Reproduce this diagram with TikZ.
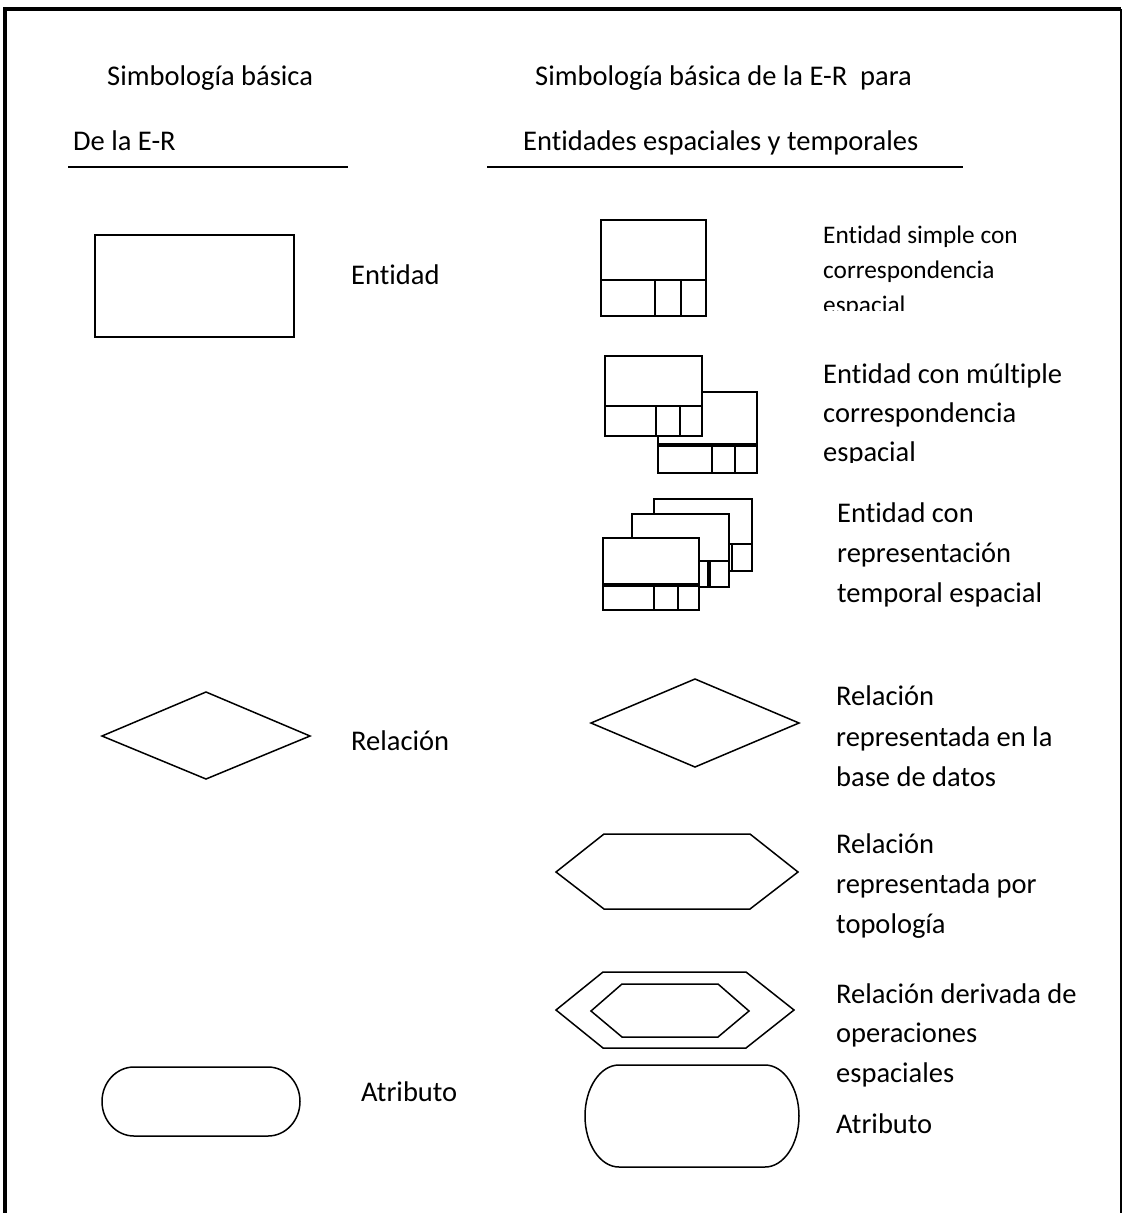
\documentclass[tikz,border=0pt]{standalone}
\usepackage{fontspec}
\setmainfont{Carlito}[Ligatures=CommonOff]
\begin{document}
\begin{tikzpicture}[x=1pt,y=-1pt,
  lbl/.style={anchor=base west, inner sep=0pt, font=\fontsize{28.5}{40}\selectfont},
  smalllbl/.style={anchor=base west, inner sep=0pt, font=\fontsize{25.3}{35}\selectfont},
  outline/.style={draw, line width=1.5pt, line join=miter},
  iconline/.style={draw, line width=2.2pt},
  thinline/.style={draw, line width=1.2pt},
  bar/.style={draw, line width=4.5pt},
  rule/.style={draw, line width=2pt}]
\useasboundingbox (0,0) rectangle (1123,1213);

% page frame
\draw[line width=1.5pt] (1121,9) -- (1121,1230);
\draw[line width=4pt] (5,1230) -- (5,9) -- (1121,9);

% column headers
\node[lbl] (hL1) at (107,85) {Simbología básica};
\node[lbl] (hL2) at (73,150) {De la E-R};
\draw[rule] (68,167) -- (348,167);
\node[lbl] (hR1) at (535,85) {Simbología básica de la E-R\ \ para};
\node[lbl] (hR2) at (523,150) {Entidades espaciales y temporales};
\draw[rule] (487,167) -- (963,167);

% ---- basic symbols ----
\draw[outline] (95,235) rectangle (294,337);
\node[lbl] (tEnt) at (351,284) {Entidad};

\draw[outline] (102,736) -- (206,692) -- (310,736) -- (206,779) -- cycle;
\node[lbl] (tRel) at (351,750) {Relación};

\draw[outline] (134,1067) -- (268,1067)
  arc[start angle=90,end angle=-90,x radius=32pt,y radius=34.5pt]
  -- (134,1136)
  arc[start angle=-90,end angle=-270,x radius=32pt,y radius=34.5pt] -- cycle;
\node[lbl] (tAtr) at (361,1101) {Atributo};

% ---- spatial / temporal symbols ----
% simple entity
\draw[iconline] (601,220) rectangle (706,316);
\draw[iconline] (601,280) -- (706,280) (655,280) -- (655,316) (681,280) -- (681,316);
\begin{scope}
  \clip (815,200) rectangle (1110,310);
  \node[smalllbl] (s1a) at (823,243) {Entidad simple con};
  \node[smalllbl] (s1b) at (823,278) {correspondencia};
  \node[smalllbl] (s1c) at (823,313) {espacial};
\end{scope}

% multiple entity
\draw[iconline] (658,392) rectangle (757,473);
\draw[bar] (658,445) -- (757,445);
\draw[iconline] (712,445) -- (712,473) (735,445) -- (735,473);
\draw[iconline, fill=white] (605,356) rectangle (702,436);
\draw[iconline] (605,406) -- (702,406) (656,406) -- (656,436) (680,406) -- (680,436);
\begin{scope}
  \clip (815,340) rectangle (1110,462);
  \node[lbl] (s2a) at (823,383) {Entidad con múltiple};
  \node[lbl] (s2b) at (823,422) {correspondencia};
  \node[lbl] (s2c) at (823,461) {espacial};
\end{scope}

% temporal entity
\draw[thinline] (654,499) rectangle (752,571);
\draw[thinline] (654,544) -- (752,544) (732,544) -- (732,571);
\draw[iconline, fill=white] (632,514) rectangle (729,587);
\draw[thinline] (632,561) -- (729,561);
\draw[line width=4pt] (709,561) -- (709,587);
\draw[iconline, fill=white] (603,538) rectangle (699,610);
\draw[bar] (603,585) -- (699,585);
\draw[thinline] (654,585) -- (654,610);
\draw[line width=2.5pt] (678,585) -- (678,610);
\node[lbl] (s3a) at (837,522) {Entidad con};
\node[lbl] (s3b) at (837,562) {representación};
\node[lbl] (s3c) at (837,602) {temporal espacial};

% relation in database
\draw[outline] (591,723) -- (695,679) -- (799,723) -- (695,767) -- cycle;
\node[lbl] (r1a) at (836,705) {Relación};
\node[lbl] (r1b) at (836,746) {representada en la};
\node[lbl] (r1c) at (836,786) {base de datos};

% topological relation
\draw[outline] (556,872) -- (604,834) -- (750,834) -- (798,872) -- (750,909) -- (604,909) -- cycle;
\node[lbl] (r2a) at (836,853) {Relación};
\node[lbl] (r2b) at (836,893) {representada por};
\node[lbl] (r2c) at (836,933) {topología};

% derived relation
\draw[outline] (556,1010) -- (603,972) -- (746,972) -- (794,1010) -- (746,1048) -- (603,1048) -- cycle;
\draw[outline] (591,1011) -- (622,984) -- (718,984) -- (749,1011) -- (718,1037) -- (622,1037) -- cycle;
\node[lbl] (r3a) at (836,1003) {Relación derivada de};
\node[lbl] (r3b) at (836,1042) {operaciones};
\node[lbl] (r3c) at (836,1082) {espaciales};

% attribute
\draw[outline] (619,1065) -- (765,1065)
  arc[start angle=90,end angle=-90,x radius=34pt,y radius=51pt]
  -- (619,1167)
  arc[start angle=-90,end angle=-270,x radius=34pt,y radius=51pt] -- cycle;
\node[lbl] (a2) at (836,1133) {Atributo};
\end{tikzpicture}
\end{document}
